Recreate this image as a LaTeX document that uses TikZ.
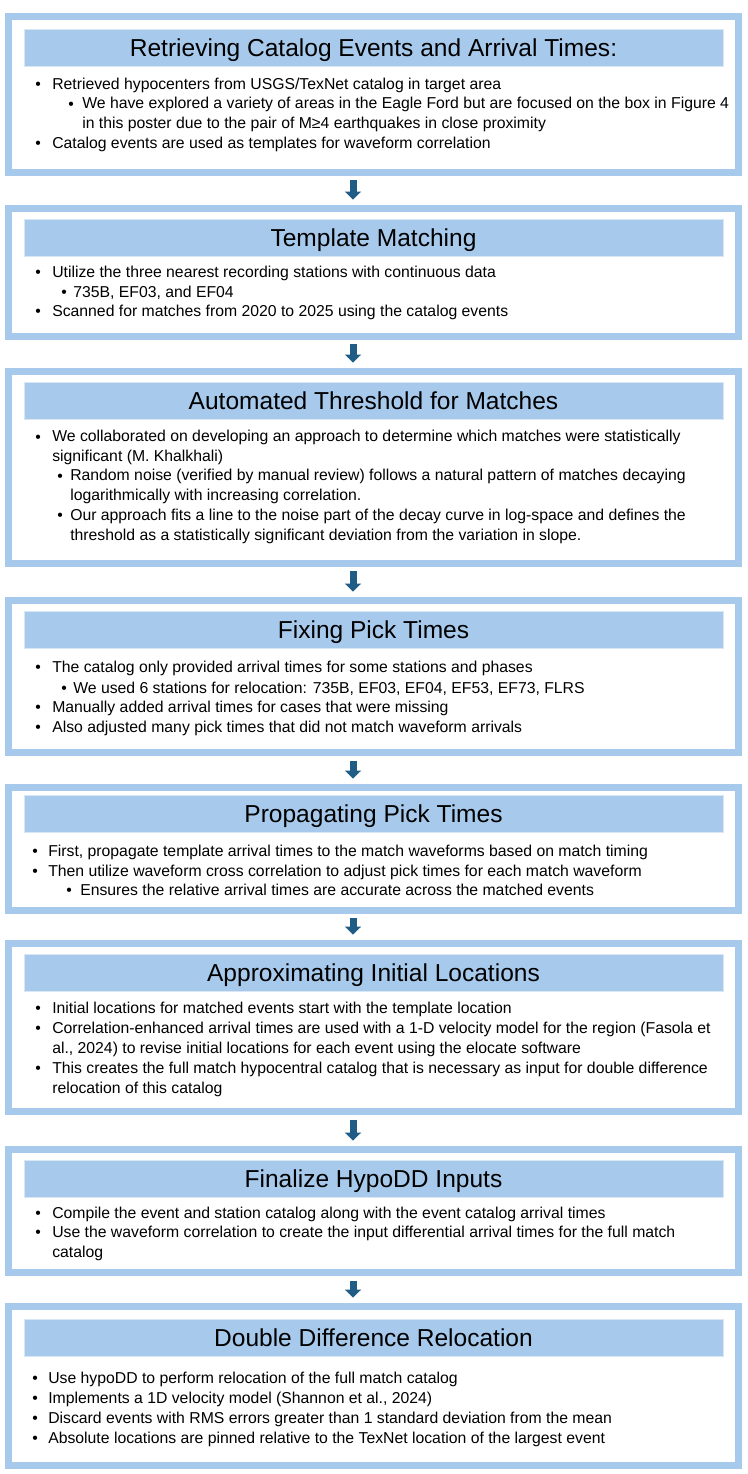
\documentclass[tikz,border=0pt]{standalone}
\usepackage{fontspec}
\setmainfont{Liberation Sans}
\usetikzlibrary{calc,arrows.meta}
\newlength\pxl
\setlength\pxl{0.75pt}
\definecolor{frameblue}{HTML}{A7CAEC}
\definecolor{barblue}{HTML}{A7CAEC}
\definecolor{baredge}{HTML}{D9E6F4}
\definecolor{arrowblue}{HTML}{1F5C86}
\tikzset{
  stagebox/.style={draw=frameblue, line width=7\pxl, fill=white, minimum width=730\pxl, anchor=north, inner sep=0pt},
  titlebar/.style={fill=barblue, draw=baredge, line width=1\pxl, minimum width=699\pxl, minimum height=37\pxl, anchor=north, inner sep=0pt},
  titletext/.style={anchor=base, inner sep=0pt, font=\fontsize{18.4}{20}\selectfont},
  bodytext/.style={anchor=base west, inner sep=0pt, align=left, font=\fontsize{11.83}{14.6}\selectfont},
  bul/.style={anchor=base west, inner sep=0pt, font=\fontsize{11.83}{14.6}\selectfont},
  flow/.style={draw=arrowblue, line width=5.25pt, -{Triangle[width=12pt,length=6pt]}, shorten <=3.4pt, shorten >=4.1pt}
}
\begin{document}
\begin{tikzpicture}[x=0.75pt, y=-0.75pt]
\useasboundingbox (0,0) rectangle (747,1474);

% stage frames
\node[stagebox, minimum height=155.7\pxl] (s1) at (373.5,13) {};
\node[stagebox, minimum height=127.7\pxl] (s2) at (373.5,205) {};
\node[stagebox, minimum height=191.7\pxl] (s3) at (373.5,368) {};
\node[stagebox, minimum height=152\pxl] (s4) at (373.5,597) {};
\node[stagebox, minimum height=122.7\pxl] (s5) at (373.5,784) {};
\node[stagebox, minimum height=168\pxl] (s6) at (373.5,940) {};
\node[stagebox, minimum height=123\pxl] (s7) at (373.5,1146) {};
\node[stagebox, minimum height=158.7\pxl] (s8) at (373.5,1303) {};

% title bars
\node[titlebar] (t1) at (373.5,29) {};
\node[titlebar] (t2) at (373.5,219) {};
\node[titlebar] (t3) at (373.5,382) {};
\node[titlebar] (t4) at (373.5,611) {};
\node[titlebar] (t5) at (373.5,795) {};
\node[titlebar] (t6) at (373.5,954) {};
\node[titlebar] (t7) at (373.5,1160) {};
\node[titlebar] (t8) at (373.5,1319) {};

\node[titletext] (h1) at ($(t1.center)+(0,8.5)$) {Retrieving Catalog Events and Arrival Times:};
\node[titletext] (h2) at ($(t2.center)+(0,8.5)$) {Template Matching};
\node[titletext] (h3) at ($(t3.center)+(0,8.5)$) {Automated Threshold for Matches};
\node[titletext] (h4) at ($(t4.center)+(0,8.5)$) {Fixing Pick Times};
\node[titletext] (h5) at ($(t5.center)+(0,8.5)$) {Propagating Pick Times};
\node[titletext] (h6) at ($(t6.center)+(0,8.5)$) {Approximating Initial Locations};
\node[titletext] (h7) at ($(t7.center)+(0,8.5)$) {Finalize HypoDD Inputs};
\node[titletext] (h8) at ($(t8.center)+(0,8.5)$) {Double Difference Relocation};

% stage 1 (multi-line items are placed by the baseline of their last line)
\node[bul] (s1b1) at (35,89) {\textbullet};
\node[bodytext] (s1i1) at (52,89) {Retrieved hypocenters from USGS/TexNet catalog in target area};
\node[bul] (s1b2) at (68,109) {\textbullet};
\node[bodytext] (s1i2) at (82,128) {We have explored a variety of areas in the Eagle Ford but are focused on the box in Figure 4\\in this poster due to the pair of M≥4 earthquakes in close proximity};
\node[bul] (s1b3) at (35,148) {\textbullet};
\node[bodytext] (s1i3) at (52,148) {Catalog events are used as templates for waveform correlation};

% stage 2
\node[bul] (s2b1) at (35,277) {\textbullet};
\node[bodytext] (s2i1) at (52,277) {Utilize the three nearest recording stations with continuous data};
\node[bul] (s2b2) at (61,297) {\textbullet};
\node[bodytext] (s2i2) at (73,297) {735B, EF03, and EF04};
\node[bul] (s2b3) at (35,316) {\textbullet};
\node[bodytext] (s2i3) at (52,316) {Scanned for matches from 2020 to 2025 using the catalog events};

% stage 3
\node[bul] (s3b1) at (35,442) {\textbullet};
\node[bodytext] (s3i1) at (52,461) {We collaborated on developing an approach to determine which matches were statistically\\significant (M. Khalkhali)};
\node[bul] (s3b2) at (57,481) {\textbullet};
\node[bodytext] (s3i2) at (70,500) {Random noise (verified by manual review) follows a natural pattern of matches decaying\\logarithmically with increasing correlation.};
\node[bul] (s3b3) at (57,520) {\textbullet};
\node[bodytext] (s3i3) at (70,540) {Our approach fits a line to the noise part of the decay curve in log-space and defines the\\threshold as a statistically significant deviation from the variation in slope.};

% stage 4
\node[bul] (s4b1) at (35,672) {\textbullet};
\node[bodytext] (s4i1) at (52,672) {The catalog only provided arrival times for some stations and phases};
\node[bul] (s4b2) at (61,693) {\textbullet};
\node[bodytext] (s4i2) at (73,693) {We used 6 stations for relocation: 735B, EF03, EF04, EF53, EF73, FLRS};
\node[bul] (s4b3) at (35,712) {\textbullet};
\node[bodytext] (s4i3) at (52,712) {Manually added arrival times for cases that were missing};
\node[bul] (s4b4) at (35,732) {\textbullet};
\node[bodytext] (s4i4) at (52,732) {Also adjusted many pick times that did not match waveform arrivals};

% stage 5
\node[bul] (s5b1) at (32,856) {\textbullet};
\node[bodytext] (s5i1) at (48,856) {First, propagate template arrival times to the match waveforms based on match timing};
\node[bul] (s5b2) at (32,876) {\textbullet};
\node[bodytext] (s5i2) at (48,876) {Then utilize waveform cross correlation to adjust pick times for each match waveform};
\node[bul] (s5b3) at (66,895) {\textbullet};
\node[bodytext] (s5i3) at (80,895) {Ensures the relative arrival times are accurate across the matched events};

% stage 6
\node[bul] (s6b1) at (35,1013) {\textbullet};
\node[bodytext] (s6i1) at (52,1013) {Initial locations for matched events start with the template location};
\node[bul] (s6b2) at (35,1033) {\textbullet};
\node[bodytext] (s6i2) at (52,1053) {Correlation-enhanced arrival times are used with a 1-D velocity model for the region (Fasola et\\al., 2024) to revise initial locations for each event using the elocate software};
\node[bul] (s6b3) at (35,1073) {\textbullet};
\node[bodytext] (s6i3) at (52,1093) {This creates the full match hypocentral catalog that is necessary as input for double difference\\relocation of this catalog};

% stage 7
\node[bul] (s7b1) at (35,1218) {\textbullet};
\node[bodytext] (s7i1) at (52,1218) {Compile the event and station catalog along with the event catalog arrival times};
\node[bul] (s7b2) at (35,1237) {\textbullet};
\node[bodytext] (s7i2) at (52,1257) {Use the waveform correlation to create the input differential arrival times for the full match\\catalog};

% stage 8
\node[bul] (s8b1) at (32,1383) {\textbullet};
\node[bodytext] (s8i1) at (48,1383) {Use hypoDD to perform relocation of the full match catalog};
\node[bul] (s8b2) at (32,1403) {\textbullet};
\node[bodytext] (s8i2) at (48,1403) {Implements a 1D velocity model (Shannon et al., 2024)};
\node[bul] (s8b3) at (32,1423) {\textbullet};
\node[bodytext] (s8i3) at (48,1423) {Discard events with RMS errors greater than 1 standard deviation from the mean};
\node[bul] (s8b4) at (32,1443) {\textbullet};
\node[bodytext] (s8i4) at (48,1443) {Absolute locations are pinned relative to the TexNet location of the largest event};

% flow arrows between stages
\draw[flow] ($(s1.south)+(-20.5,0)$) -- ($(s2.north)+(-20.5,0)$);
\draw[flow] ($(s2.south)+(-20.5,0)$) -- ($(s3.north)+(-20.5,0)$);
\draw[flow] ($(s3.south)+(-20.5,0)$) -- ($(s4.north)+(-20.5,0)$);
\draw[flow] ($(s4.south)+(-20.5,0)$) -- ($(s5.north)+(-20.5,0)$);
\draw[flow] ($(s5.south)+(-20.5,0)$) -- ($(s6.north)+(-20.5,0)$);
\draw[flow] ($(s6.south)+(-20.5,0)$) -- ($(s7.north)+(-20.5,0)$);
\draw[flow] ($(s7.south)+(-20.5,0)$) -- ($(s8.north)+(-20.5,0)$);
\end{tikzpicture}
\end{document}
